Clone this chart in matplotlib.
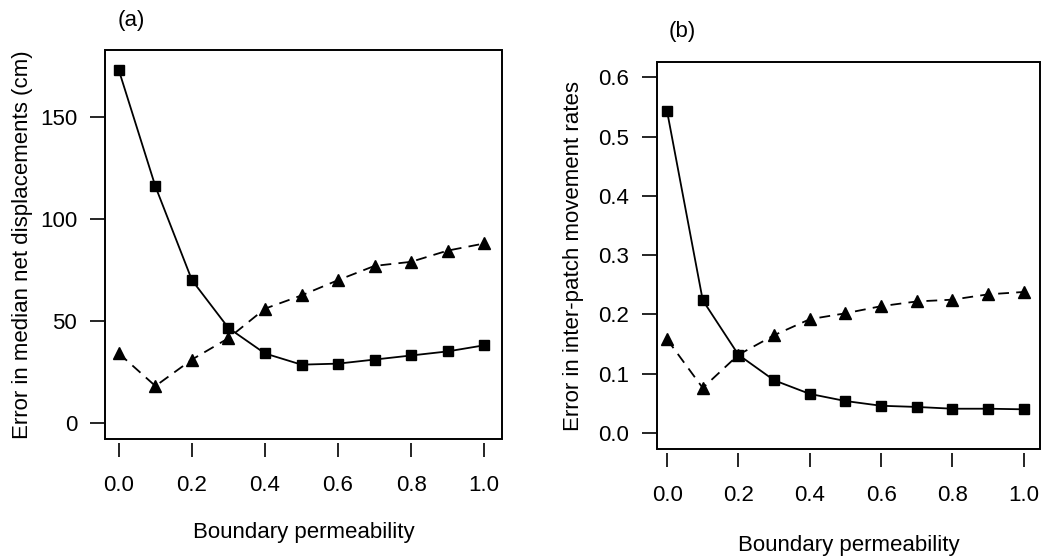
import numpy as np
import matplotlib.pyplot as plt
from matplotlib.patches import Rectangle

plt.rcParams['font.family'] = ['Liberation Sans', 'DejaVu Sans']

# Boundary permeability values
permeability = [0.0, 0.1, 0.2, 0.3, 0.4, 0.5, 0.6, 0.7, 0.8, 0.9, 1.0]

# (a) Error in median net displacements (cm)
disp_squares = [173, 116, 70, 46.5, 34, 28.5, 29, 31, 33, 35, 38]
disp_triangles = [34, 18, 31, 41.5, 56, 62.5, 70, 77, 79, 84.5, 88]

# (b) Error in inter-patch movement rates
rate_squares = [0.543, 0.224, 0.132, 0.089, 0.066, 0.054, 0.046, 0.044, 0.041, 0.041, 0.040]
rate_triangles = [0.158, 0.076, 0.132, 0.165, 0.192, 0.202, 0.214, 0.222, 0.225, 0.234, 0.238]

x_ticks = [0.0, 0.2, 0.4, 0.6, 0.8, 1.0]
x_ticklabels = ['0.0', '0.2', '0.4', '0.6', '0.8', '1.0']
a_yticks = [0, 50, 100, 150]
b_yticks = [0.0, 0.1, 0.2, 0.3, 0.4, 0.5, 0.6]
b_yticklabels = ['0.0', '0.1', '0.2', '0.3', '0.4', '0.5', '0.6']

FS = 16


def style_axes(ax):
    # R-like box with detached outward ticks
    for s in ax.spines.values():
        s.set_visible(False)
    ax.spines['bottom'].set_position(('outward', 3))
    ax.spines['left'].set_position(('outward', 1))
    ax.add_patch(Rectangle((0, 0), 1, 1, transform=ax.transAxes, fill=False,
                           lw=1.4, edgecolor='black', clip_on=False))
    ax.tick_params(direction='out', length=10, width=1.2, labelsize=FS,
                   colors='black')
    ax.tick_params(axis='x', pad=13)
    ax.tick_params(axis='y', pad=9)


def draw(ax, sq, tri):
    ax.plot(permeability, sq, '-', color='black', lw=1.3, marker='s',
            markersize=7.5, zorder=3)
    ax.plot(permeability, tri, '--', color='black', lw=1.3, marker='^',
            markersize=8.5, dashes=(6, 4), zorder=3)


fig = plt.figure(figsize=(10.43, 5.58), dpi=100)

ax1 = fig.add_axes([0.1007, 0.2133, 0.3806, 0.697])
draw(ax1, disp_squares, disp_triangles)
ax1.set_xlim(-0.038, 1.049)
ax1.set_ylim(-8, 183)
ax1.set_xticks(x_ticks)
ax1.set_xticklabels(x_ticklabels)
ax1.set_yticks(a_yticks)
style_axes(ax1)
ax1.set_xlabel('Boundary permeability', fontsize=FS, labelpad=19)
ax1.set_ylabel('Error in median net displacements (cm)', fontsize=FS, labelpad=5)
fig.text(0.113, 0.963, '(a)', fontsize=FS, ha='left', va='center')

ax2 = fig.add_axes([0.630, 0.1953, 0.367, 0.6936])
draw(ax2, rate_squares, rate_triangles)
ax2.set_xlim(-0.028, 1.045)
ax2.set_ylim(-0.027, 0.626)
ax2.set_xticks(x_ticks)
ax2.set_xticklabels(x_ticklabels)
ax2.set_yticks(b_yticks)
ax2.set_yticklabels(b_yticklabels)
style_axes(ax2)
ax2.set_xlabel('Boundary permeability', fontsize=FS, labelpad=21)
ax2.set_ylabel('Error in inter-patch movement rates', fontsize=FS, labelpad=10)
fig.text(0.641, 0.943, '(b)', fontsize=FS, ha='left', va='center')

fig.savefig('out.png', dpi=100)
